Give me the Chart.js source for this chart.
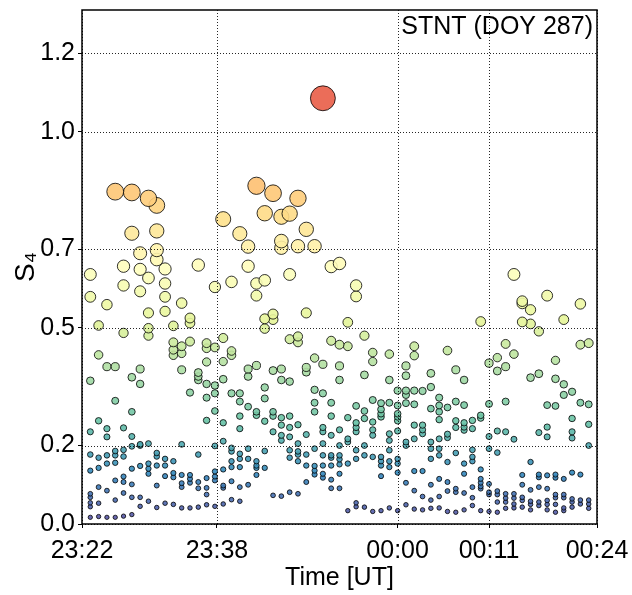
<!DOCTYPE html>
<html>
<head>
<meta charset="utf-8">
<script src="https://cdn.jsdelivr.net/npm/chart.js@4"></script>
<style>
  html, body { margin: 0; padding: 0; background: #fff; }
</style>
</head>
<body>
<canvas id="s4-chart" width="632" height="595"></canvas>
<script>
// S4 scintillation index, STNT receiver, DOY 287
// one sample per minute after 23:22 UT, each list = all satellites in view
var minutes = [1, 2, 3, 4, 5, 6, 7, 8, 9, 10, 11, 12, 13, 14, 15, 16, 17, 18, 19, 20,
  21, 22, 23, 24, 25, 26, 27, 28, 29, 30, 31, 32, 33, 34, 35, 36, 37, 38, 39, 40,
  41, 42, 43, 44, 45, 46, 47, 48, 49, 50, 51, 52, 53, 54, 55, 56, 57, 58, 59, 60, 61];

var s4PerMinute = [
  [0.636, 0.579, 0.365, 0.235, 0.177, 0.136, 0.077, 0.068, 0.054, 0.044, 0.017],
  [0.506, 0.431, 0.263, 0.169, 0.143, 0.094, 0.053, 0.019],
  [0.559, 0.401, 0.243, 0.222, 0.175, 0.154, 0.085, 0.017],
  [0.847, 0.401, 0.314, 0.186, 0.175, 0.156, 0.111, 0.061, 0.017],
  [0.657, 0.608, 0.487, 0.245, 0.189, 0.172, 0.121, 0.107, 0.079, 0.020],
  [0.845, 0.741, 0.374, 0.286, 0.223, 0.198, 0.141, 0.101, 0.068, 0.024],
  [0.690, 0.649, 0.593, 0.395, 0.357, 0.203, 0.200, 0.148, 0.068, 0.045],
  [0.830, 0.627, 0.538, 0.499, 0.480, 0.205, 0.154, 0.141, 0.128, 0.058],
  [0.812, 0.747, 0.698, 0.674, 0.181, 0.172, 0.149, 0.098, 0.042],
  [0.650, 0.613, 0.579, 0.542, 0.166, 0.149, 0.122, 0.053],
  [0.505, 0.463, 0.444, 0.430, 0.160, 0.130, 0.119, 0.050],
  [0.563, 0.453, 0.435, 0.393, 0.203, 0.125, 0.104, 0.094, 0.041],
  [0.525, 0.512, 0.465, 0.335, 0.125, 0.115, 0.105, 0.041],
  [0.660, 0.386, 0.376, 0.367, 0.177, 0.107, 0.091, 0.043],
  [0.461, 0.448, 0.413, 0.357, 0.322, 0.264, 0.117, 0.092, 0.075, 0.049],
  [0.604, 0.450, 0.353, 0.333, 0.288, 0.199, 0.134, 0.121, 0.111, 0.045],
  [0.777, 0.474, 0.414, 0.369, 0.258, 0.211, 0.139, 0.098, 0.092, 0.051],
  [0.617, 0.441, 0.430, 0.333, 0.194, 0.185, 0.160, 0.145, 0.109, 0.062],
  [0.740, 0.333, 0.312, 0.275, 0.243, 0.179, 0.166, 0.145, 0.094, 0.058],
  [0.707, 0.657, 0.395, 0.376, 0.299, 0.192, 0.166, 0.100],
  [0.862, 0.613, 0.582, 0.404, 0.286, 0.277, 0.160, 0.149, 0.143, 0.125],
  [0.792, 0.621, 0.523, 0.498, 0.348, 0.320, 0.262, 0.186, 0.143],
  [0.843, 0.535, 0.521, 0.391, 0.286, 0.275, 0.235, 0.073],
  [0.783, 0.721, 0.704, 0.395, 0.367, 0.271, 0.252, 0.226, 0.213, 0.071],
  [0.791, 0.636, 0.471, 0.363, 0.275, 0.246, 0.222, 0.188, 0.169, 0.081],
  [0.830, 0.708, 0.478, 0.463, 0.253, 0.205, 0.185, 0.177, 0.160, 0.077],
  [0.751, 0.538, 0.399, 0.387, 0.228, 0.177, 0.149, 0.107],
  [0.708, 0.423, 0.342, 0.309, 0.286, 0.192, 0.148, 0.136, 0.126],
  [1.085, 0.407, 0.333, 0.246, 0.235, 0.205, 0.175, 0.149, 0.128, 0.118],
  [0.656, 0.467, 0.309, 0.275, 0.226, 0.175, 0.169, 0.149, 0.113, 0.091],
  [0.664, 0.457, 0.403, 0.367, 0.240, 0.200, 0.175, 0.165, 0.152, 0.128, 0.091],
  [0.514, 0.453, 0.271, 0.217, 0.209, 0.154, 0.034],
  [0.608, 0.580, 0.301, 0.258, 0.246, 0.235, 0.188, 0.166, 0.054, 0.044],
  [0.480, 0.380, 0.288, 0.269, 0.200, 0.175, 0.043],
  [0.437, 0.414, 0.316, 0.260, 0.240, 0.226, 0.171, 0.032],
  [0.308, 0.292, 0.281, 0.273, 0.171, 0.160, 0.149, 0.122, 0.034],
  [0.433, 0.367, 0.309, 0.230, 0.213, 0.188, 0.160, 0.145, 0.041],
  [0.340, 0.302, 0.281, 0.273, 0.263, 0.237, 0.166, 0.154, 0.131, 0.034],
  [0.403, 0.378, 0.340, 0.329, 0.308, 0.209, 0.200, 0.105, 0.049],
  [0.453, 0.429, 0.340, 0.305, 0.252, 0.217, 0.135, 0.085, 0.038],
  [0.339, 0.252, 0.240, 0.230, 0.135, 0.070, 0.036],
  [0.384, 0.349, 0.294, 0.209, 0.192, 0.166, 0.100, 0.061, 0.040],
  [0.322, 0.302, 0.286, 0.266, 0.217, 0.192, 0.175, 0.115, 0.070, 0.041],
  [0.442, 0.297, 0.229, 0.220, 0.158, 0.107, 0.084, 0.032],
  [0.393, 0.312, 0.263, 0.246, 0.181, 0.090, 0.081, 0.030],
  [0.367, 0.303, 0.258, 0.247, 0.239, 0.154, 0.128, 0.079, 0.036],
  [0.264, 0.243, 0.189, 0.171, 0.160, 0.094, 0.067, 0.047],
  [0.516, 0.277, 0.270, 0.139, 0.115, 0.105, 0.096, 0.090, 0.034],
  [0.410, 0.306, 0.223, 0.192, 0.102, 0.081, 0.075, 0.032],
  [0.424, 0.390, 0.237, 0.182, 0.084, 0.075, 0.056, 0.030],
  [0.459, 0.401, 0.312, 0.235, 0.077, 0.066, 0.056, 0.040],
  [0.636, 0.433, 0.216, 0.077, 0.066, 0.051, 0.041],
  [0.568, 0.562, 0.515, 0.125, 0.100, 0.068, 0.060, 0.043],
  [0.546, 0.510, 0.373, 0.158, 0.087, 0.058, 0.050, 0.036],
  [0.491, 0.383, 0.233, 0.126, 0.119, 0.094, 0.056, 0.047],
  [0.582, 0.303, 0.247, 0.222, 0.124, 0.090, 0.060, 0.050, 0.036],
  [0.417, 0.370, 0.301, 0.126, 0.118, 0.075, 0.067, 0.050, 0.030],
  [0.521, 0.356, 0.329, 0.115, 0.075, 0.067, 0.041, 0.034],
  [0.337, 0.269, 0.235, 0.219, 0.131, 0.064, 0.056, 0.043],
  [0.561, 0.457, 0.309, 0.126, 0.061, 0.051],
  [0.461, 0.305, 0.254, 0.200, 0.061, 0.051, 0.040]
];

// axis ticks (minutes after 23:22 UT)
var timeTicks = [0, 16.25, 38, 49, 62];
var timeLabels = ['23:22', '23:38', '00:00', '00:11', '00:24'];
var s4Ticks = [0, 0.2, 0.5, 0.7, 1.0, 1.2];

var stationLabel = 'STNT (DOY 287)';

// Spectral_r colour map, S4 0 .. vmax
var spectral = ['#5e4fa2', '#3288bd', '#66c2a5', '#abdda4', '#e6f598', '#ffffbf',
  '#fee08b', '#fdae61', '#f46d43', '#d53e4f', '#9e0142'];
var vmax = 1.3;

function hexRgb(h) {
  return [parseInt(h.substr(1, 2), 16), parseInt(h.substr(3, 2), 16), parseInt(h.substr(5, 2), 16)];
}

function s4Color(v, alpha) {
  var f = Math.min(Math.max(v / vmax, 0), 1) * (spectral.length - 1);
  var i = Math.min(Math.floor(f), spectral.length - 2);
  var t = f - i;
  var a = hexRgb(spectral[i]), b = hexRgb(spectral[i + 1]);
  var c = a.map(function(x, k) { return Math.round(x + (b[k] - x) * t); });
  return 'rgba(' + c[0] + ',' + c[1] + ',' + c[2] + ',' + alpha + ')';
}

// marker grows with S4
function s4Radius(v) {
  return 2.1 * Math.exp(1.64 * v);
}

var points = [];
minutes.forEach(function(m, i) {
  s4PerMinute[i].forEach(function(v) {
    points.push({x: m, y: v});
  });
});
// big values on top
points.sort(function(a, b) { return a.y - b.y; });

var FONT = '"Liberation Sans", Arial, sans-serif';
Chart.defaults.font.family = FONT;
Chart.defaults.color = '#000';

// dotted grid over the markers, full frame and station label
var overlay = {
  id: 'overlay',
  afterDatasetsDraw: function(chart) {
    var ctx = chart.ctx, a = chart.chartArea;
    var sx = chart.scales.x, sy = chart.scales.y;
    ctx.save();
    ctx.strokeStyle = 'rgba(0,0,0,0.85)';
    ctx.lineWidth = 1;
    ctx.setLineDash([1, 2]);
    sx.ticks.forEach(function(t) {
      var px = Math.round(sx.getPixelForValue(t.value)) + 0.5;
      ctx.beginPath(); ctx.moveTo(px, a.top); ctx.lineTo(px, a.bottom); ctx.stroke();
    });
    sy.ticks.forEach(function(t) {
      var py = Math.round(sy.getPixelForValue(t.value)) + 0.5;
      ctx.beginPath(); ctx.moveTo(a.left, py); ctx.lineTo(a.right, py); ctx.stroke();
    });
    ctx.setLineDash([]);
    ctx.strokeStyle = '#000';
    ctx.lineWidth = 1.5;
    ctx.strokeRect(a.left, a.top, a.right - a.left, a.bottom - a.top);

    ctx.fillStyle = '#000';
    ctx.font = '25px ' + FONT;
    ctx.textAlign = 'right';
    ctx.textBaseline = 'middle';
    ctx.fillText(stationLabel, a.right - 4, a.top + 17);
    ctx.restore();
  }
};

new Chart(document.getElementById('s4-chart'), {
  type: 'scatter',
  data: {
    datasets: [{
      data: points,
      backgroundColor: function(c) { return s4Color(c.raw.y, 0.9); },
      borderColor: 'rgba(0,0,0,0.8)',
      borderWidth: 1,
      pointRadius: function(c) { return s4Radius(c.raw.y); },
      pointHoverRadius: function(c) { return s4Radius(c.raw.y); }
    }]
  },
  options: {
    responsive: false,
    animation: false,
    layout: { autoPadding: false, padding: { top: 10, right: 35, left: 0, bottom: 0 } },
    plugins: {
      legend: { display: false },
      tooltip: { enabled: false }
    },
    scales: {
      x: {
        type: 'linear',
        min: 0,
        max: 62,
        afterBuildTicks: function(axis) {
          axis.ticks = timeTicks.map(function(v) { return {value: v}; });
        },
        afterFit: function(s) {
          s.height = 71;
          s.paddingLeft = 0;
          s.paddingRight = 0;
        },
        ticks: {
          callback: function(v, i) { return timeLabels[i]; },
          font: { size: 25 },
          maxRotation: 0,
          autoSkip: false,
          padding: 8
        },
        grid: { drawOnChartArea: false, tickLength: 4, color: '#000' },
        border: { display: false },
        title: { display: true, text: 'Time [UT]', font: { size: 25 }, padding: { top: 0, bottom: 2 } }
      },
      y: {
        min: 0,
        max: 1.31,
        afterBuildTicks: function(axis) {
          axis.ticks = s4Ticks.map(function(v) { return {value: v}; });
        },
        afterFit: function(s) {
          s.width = 82;
          s.paddingTop = 0;
          s.paddingBottom = 0;
        },
        ticks: {
          callback: function(v) { return v.toFixed(1); },
          font: { size: 25 },
          autoSkip: false,
          padding: 3
        },
        grid: { drawOnChartArea: false, tickLength: 4, color: '#000' },
        border: { display: false },
        title: { display: true, text: 'S\u2084', font: { size: 28 }, padding: { top: 9, bottom: 0 } }
      }
    }
  },
  plugins: [overlay]
});
</script>
</body>
</html>
